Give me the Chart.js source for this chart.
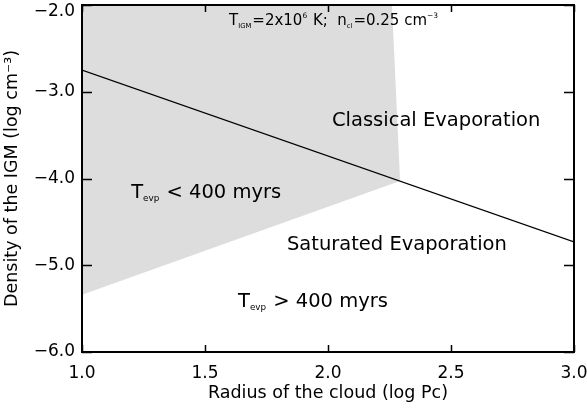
<!DOCTYPE html>
<html>
<head>
<meta charset="utf-8">
<script src="https://cdn.jsdelivr.net/npm/chart.js@4"></script>
<style>
  html, body { margin:0; padding:0; background:#fff; }
  canvas { display:block; }
</style>
</head>
<body>
<canvas id="c" width="587" height="409"></canvas>
<script>
// data (log Pc vs log cm^-3)
const xTicks = [1.0, 1.5, 2.0, 2.5, 3.0];
const yTicks = [-6.0, -5.0, -4.0, -3.0, -2.0];
const shadeX = [1.0, 2.26, 2.293, 1.0];
const shadeY = [-2.0, -2.0, -4.03, -5.34];
const lineX = [1.0, 3.0];
const lineY = [-2.75, -4.73];

// text labels, [x, y] in data units (left edge, vertical middle)
const labels = [
  { at: [1.598, -2.19], size: 15, parts: [['T'], ['IGM', 'sub'], ['=2x10'], ['6', 'sup'], [' K;  n'], ['cl', 'sub'], ['=0.25 cm'], ['\u22123', 'sup']] },
  { at: [2.016, -3.34], size: 19.5, parts: [['Classical Evaporation']] },
  { at: [1.200, -4.17], size: 19.5, parts: [['T'], ['evp', 'sub'], [' < 400 myrs']] },
  { at: [1.833, -4.77], size: 19.5, parts: [['Saturated Evaporation']] },
  { at: [1.634, -5.42], size: 19.5, parts: [['T'], ['evp', 'sub'], [' > 400 myrs']] }
];

const FONT = '"DejaVu Sans", sans-serif';
const pts = (xs, ys) => xs.map((x, i) => ({ x, y: ys[i] }));
const fmt = v => (v < 0 ? '\u2212' : '') + Math.abs(v).toFixed(1);
const yTop = yTicks[yTicks.length - 1];

function drawRich(ctx, parts, x, y, size) {
  ctx.textBaseline = 'middle';
  ctx.textAlign = 'left';
  let cx = x;
  parts.forEach(([t, kind]) => {
    let fs = size, dy = 0;
    if (kind === 'sub') { fs = size * 0.45; dy = size * 0.3; }
    if (kind === 'sup') { fs = size * 0.5; dy = -size * 0.38; }
    ctx.font = fs + 'px ' + FONT;
    ctx.fillText(t, cx, y + dy);
    cx += ctx.measureText(t).width + (kind ? 1 : 0);
  });
}

const frame = {
  id: 'frame',
  afterDatasetsDraw(chart) {
    const { ctx, chartArea: a, scales: { x, y } } = chart;
    ctx.save();
    ctx.strokeStyle = '#000';
    ctx.lineWidth = 2;
    ctx.strokeRect(a.left, a.top, a.right - a.left, a.bottom - a.top);
    ctx.beginPath();
    xTicks.forEach(v => {
      const px = Math.round(x.getPixelForValue(v)) + 0.5;
      ctx.moveTo(px, a.bottom); ctx.lineTo(px, a.bottom - 7);
      ctx.moveTo(px, a.top); ctx.lineTo(px, a.top + 7);
    });
    yTicks.forEach(v => {
      const py = Math.round(y.getPixelForValue(v)) + 0.5;
      ctx.moveTo(a.left, py); ctx.lineTo(a.left + 10, py);
      ctx.moveTo(a.right, py); ctx.lineTo(a.right - 10, py);
    });
    ctx.lineWidth = 1.5;
    ctx.stroke();
    ctx.fillStyle = '#000';
    // top y label sits a little below its tick so it stays on the page
    ctx.font = '17px ' + FONT;
    ctx.textAlign = 'right';
    ctx.textBaseline = 'middle';
    ctx.fillText(fmt(yTop), a.left - 7, y.getPixelForValue(yTop) + 7);
    labels.forEach(l => drawRich(ctx, l.parts, x.getPixelForValue(l.at[0]), y.getPixelForValue(l.at[1]), l.size));
    ctx.restore();
  }
};

const tickFont = { family: FONT, size: 17 };

new Chart(document.getElementById('c'), {
  type: 'scatter',
  data: {
    datasets: [
      { data: pts(lineX, lineY), showLine: true, borderColor: '#000', borderWidth: 1.2, pointRadius: 0, fill: false },
      { data: pts(shadeX, shadeY), showLine: true, borderWidth: 0, borderColor: 'rgba(0,0,0,0)', backgroundColor: '#dddddd', pointRadius: 0, fill: 'shape' }
    ]
  },
  options: {
    responsive: false,
    animation: false,
    layout: { padding: { top: 5, right: 13, left: 0, bottom: 0 } },
    plugins: { legend: { display: false }, tooltip: { enabled: false } },
    scales: {
      x: {
        type: 'linear', min: 1.0, max: 3.0,
        afterBuildTicks: s => { s.ticks = xTicks.map(v => ({ value: v })); },
        afterFit: s => { s.height = 57; s.paddingLeft = 0; s.paddingRight = 0; },
        grid: { display: false, drawTicks: false },
        border: { display: false },
        ticks: { padding: 11, color: '#000', font: tickFont, maxRotation: 0, callback: v => fmt(v) },
        title: { display: true, text: 'Radius of the cloud (log Pc)', color: '#000', font: { family: FONT, size: 17.5 }, padding: { top: 0, bottom: 5 } }
      },
      y: {
        type: 'linear', min: -6.0, max: -2.0,
        afterBuildTicks: s => { s.ticks = yTicks.map(v => ({ value: v })); },
        afterFit: s => { s.width = 82; s.paddingTop = 0; s.paddingBottom = 0; },
        grid: { display: false, drawTicks: false },
        border: { display: false },
        ticks: { padding: 7, color: '#000', font: tickFont, callback: v => (v === yTop ? '' : fmt(v)) },
        title: { display: true, text: 'Density of the IGM (log cm\u207B\u00B3)', color: '#000', font: { family: FONT, size: 17.5 }, padding: { top: 2, bottom: 0 } }
      }
    }
  },
  plugins: [frame]
});
</script>
</body>
</html>
